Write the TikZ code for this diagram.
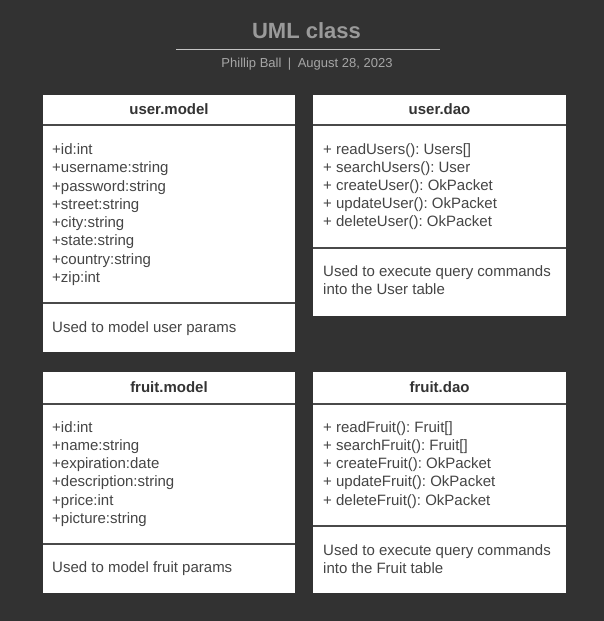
\documentclass[tikz,border=0pt]{standalone}
\usepackage{fontspec}
\setmainfont{Liberation Sans}
\usepackage{xcolor}
\usetikzlibrary{positioning}
\frenchspacing
\definecolor{bgdark}{HTML}{323232}
\definecolor{titlegray}{HTML}{9A9A9A}
\definecolor{subgray}{HTML}{A6A6A6}
\definecolor{rulegray}{HTML}{C4C4C4}
\definecolor{headgray}{HTML}{333333}
\definecolor{bodygray}{HTML}{454545}
\definecolor{divgray}{HTML}{4A4A4A}

\begin{document}
\begin{tikzpicture}[
    x=1pt, y=-1pt,
    box/.style={rectangle, fill=white, draw=none, inner sep=0pt, minimum width=252.5pt},
    head/.style={box, font=\fontsize{15}{18}\selectfont\bfseries, text=headgray, text height=11pt, text depth=3pt},
    item/.style={anchor=base west, inner sep=0pt, text=bodygray, font=\fontsize{15}{18}\selectfont},
    divider/.style={draw=divgray, line width=2pt}
]
    \useasboundingbox[fill=bgdark] (0,0) rectangle (604,621);

    % title
    \node[anchor=base, inner sep=0pt, text=titlegray, font=\fontsize{22}{26}\selectfont\bfseries] (title) at (306.5,38.3) {UML class};
    \coordinate (rule-l) at (176,49.5);
    \coordinate (rule-r) at (440,49.5);
    \draw[draw=rulegray, line width=1.5pt] (rule-l) -- (rule-r);
    \node[anchor=base, inner sep=0pt, text=subgray, font=\fontsize{13}{16}\selectfont] (subtitle) at (307,67.3) {Phillip Ball\hspace{6.5pt}|\hspace{6.5pt}August 28, 2023};

    % user.model
    \node[head, minimum height=30pt] (umh) at (169,110) {user.model};
    \node[box, minimum height=178pt] (uma) at (169,214) {};
    \node[box, minimum height=49pt] (umd) at (169,327.5) {};
    \draw[divider] (uma.north west) -- (uma.north east);
    \draw[divider] (umd.north west) -- (umd.north east);
    \foreach \t [count=\i] in {+id:int, +username:string, +password:string, +street:string,
                               +city:string, +state:string, +country:string, +zip:int}
        \node[item] (uma-\i) at (52,154.5+18.25*\i-18.25) {\t};
    \node[item] (umd-1) at (52,332) {Used to model user params};

    % user.dao
    \node[head, minimum height=30pt] (udh) at (439.5,110) {user.dao};
    \node[box, minimum height=123pt] (udm) at (439.5,186.5) {};
    \node[box, minimum height=68pt] (udd) at (439.5,282) {};
    \draw[divider] (udm.north west) -- (udm.north east);
    \draw[divider] (udd.north west) -- (udd.north east);
    \foreach \t [count=\i] in {{+ readUsers(): Users[]}, {+ searchUsers(): User},
                               {+ createUser(): OkPacket}, {+ updateUser(): OkPacket},
                               {+ deleteUser(): OkPacket}}
        \node[item] (udm-\i) at (323,154.3+18.1*\i-18.1) {\t};
    \node[item] (udd-1) at (323,276.7) {Used to execute query commands};
    \node[item] (udd-2) at (323,294.5) {into the User table};

    % fruit.model
    \node[head, minimum height=32pt] (fmh) at (169,388) {fruit.model};
    \node[box, minimum height=140pt] (fma) at (169,474) {};
    \node[box, minimum height=49pt] (fmd) at (169,568.5) {};
    \draw[divider] (fma.north west) -- (fma.north east);
    \draw[divider] (fmd.north west) -- (fmd.north east);
    \foreach \t [count=\i] in {+id:int, +name:string, +expiration:date,
                               +description:string, +price:int, +picture:string}
        \node[item] (fma-\i) at (52,432.3+18.2*\i-18.2) {\t};
    \node[item] (fmd-1) at (52,572.7) {Used to model fruit params};

    % fruit.dao
    \node[head, minimum height=32pt] (fdh) at (439.5,388) {fruit.dao};
    \node[box, minimum height=122pt] (fdm) at (439.5,465) {};
    \node[box, minimum height=67pt] (fdd) at (439.5,559.5) {};
    \draw[divider] (fdm.north west) -- (fdm.north east);
    \draw[divider] (fdd.north west) -- (fdd.north east);
    \foreach \t [count=\i] in {{+ readFruit(): Fruit[]}, {+ searchFruit(): Fruit[]},
                               {+ createFruit(): OkPacket}, {+ updateFruit(): OkPacket},
                               {+ deleteFruit(): OkPacket}}
        \node[item] (fdm-\i) at (323,432.3+18.2*\i-18.2) {\t};
    \node[item] (fdd-1) at (323,555) {Used to execute query commands};
    \node[item] (fdd-2) at (323,573) {into the Fruit table};
\end{tikzpicture}
\end{document}
